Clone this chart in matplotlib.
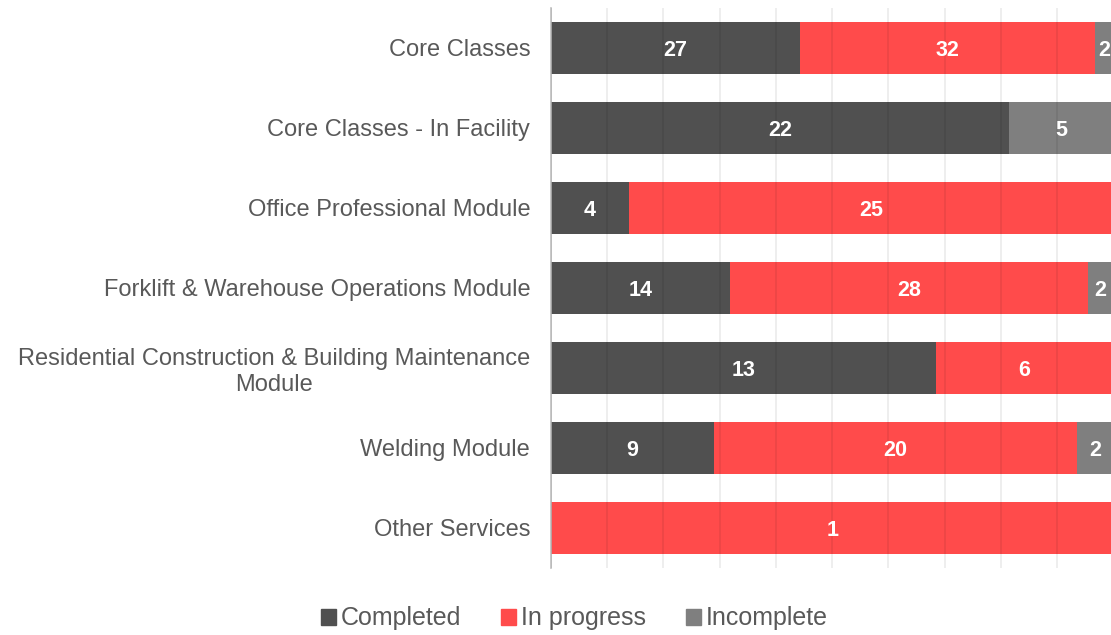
import numpy as np
import matplotlib.pyplot as plt
from matplotlib.patches import Patch

plt.rcParams['font.family'] = ['Liberation Sans', 'DejaVu Sans']

categories = ['Core Classes', 'Core Classes - In Facility', 'Office Professional Module',
              'Forklift & Warehouse Operations Module',
              'Residential Construction & Building Maintenance\nModule',
              'Welding Module', 'Other Services']
completed = [27, 22, 4, 14, 13, 9, 0]
in_progress = [32, 0, 25, 28, 6, 20, 1]
incomplete = [2, 5, 0, 2, 0, 2, 0]

series = [('Completed', completed, '#505050'),
          ('In progress', in_progress, '#FF4B4B'),
          ('Incomplete', incomplete, '#7F7F7F')]

totals = np.array(completed) + np.array(in_progress) + np.array(incomplete)
y = np.arange(len(categories))

fig = plt.figure(figsize=(11.11, 6.35), dpi=100)
ax = fig.add_axes([0.496, 0.106, 0.506, 0.882])

left = np.zeros(len(categories))
for name, vals, color in series:
    share = np.array(vals) / totals * 100
    ax.barh(y, share, left=left, height=0.65, color=color, zorder=2)
    for yi, (v, s, l) in enumerate(zip(vals, share, left)):
        if v > 0:
            ax.text(l + s / 2, yi, str(v), ha='center', va='center_baseline', color='white',
                    fontsize=15.5, fontweight='bold', zorder=4)
    left += share

ax.set_xlim(0, 100)
ax.set_ylim(len(categories) - 0.5, -0.5)
ax.set_xticks(np.arange(0, 101, 10))
ax.set_xticklabels([])
ax.tick_params(axis='x', length=0)
ax.tick_params(axis='y', length=0, pad=15, labelsize=17, labelcolor='#595959')
ax.set_yticks(y)
ax.set_yticklabels(categories)
for lbl in ax.get_yticklabels():
    lbl.set_multialignment('center')
ax.grid(axis='x', color='black', alpha=0.08, linewidth=1.2, zorder=3)
ax.set_axisbelow(False)
for s in ['top', 'right', 'bottom']:
    ax.spines[s].set_visible(False)
ax.spines['left'].set_color('#BFBFBF')
ax.spines['left'].set_linewidth(1.2)

handles = [Patch(color=c, label=n) for n, _, c in series]
fig.legend(handles=handles, loc='center', bbox_to_anchor=(0.517, 0.026), ncol=3,
           frameon=False, fontsize=18, labelcolor='#595959', handlelength=0.6,
           handleheight=0.6, handletextpad=0.2, columnspacing=1.6)

fig.savefig('out.png', dpi=100)
